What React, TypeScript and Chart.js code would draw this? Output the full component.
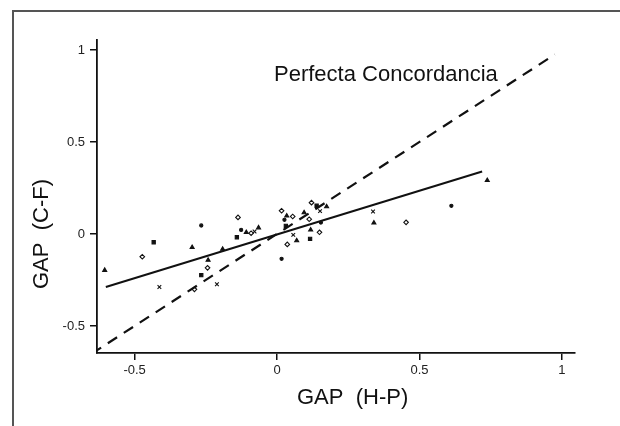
import React, { useEffect, useRef } from 'react';
import { Chart, registerables } from 'chart.js';

Chart.register(...registerables);

// GAP measured by H-P (x) against GAP measured by C-F (y), one entry per subject
const gapHP = [
  -0.605, -0.473, -0.433, -0.413, -0.298, -0.29, -0.266, -0.242, -0.244, -0.266,
  -0.211, -0.191, -0.137, -0.126, -0.108, -0.091, -0.141, -0.079, -0.065, 0.016,
  0.026, 0.034, 0.055, 0.031, 0.057, 0.069, 0.036, 0.016, 0.095, 0.121,
  0.139, 0.151, 0.174, 0.113, 0.154, 0.118, 0.149, 0.116, 0.337, 0.34,
  0.453, 0.612, 0.738,
];
const gapCF = [
  -0.197, -0.124, -0.045, -0.288, -0.073, -0.301, 0.046, -0.142, -0.184, -0.224,
  -0.273, -0.082, 0.09, 0.022, 0.009, 0.004, -0.018, 0.013, 0.034, 0.126,
  0.077, 0.098, 0.095, 0.044, -0.005, -0.036, -0.057, -0.135, 0.116, 0.17,
  0.153, 0.124, 0.149, 0.08, 0.062, 0.022, 0.009, -0.027, 0.122, 0.06,
  0.063, 0.153, 0.291,
];

// Fitted regression line end points
const fitX = [-0.601, 0.72];
const fitY = [-0.288, 0.339];

// Line of perfect agreement (y = x)
const agreeX = [-0.65, 0.975];
const agreeY = [-0.65, 0.975];

// Axis ticks
const xTicks = [-0.5, 0, 0.5, 1];
const xTickLabels = ['-0.5', '0', '0.5', '1'];
const yTicks = [-0.5, 0, 0.5, 1];
const yTickLabels = ['-0.5', '0', '0.5', '1'];

const xTitle = 'GAP  (H-P)';
const yTitle = 'GAP  (C-F)';
const agreeLabel = 'Perfecta Concordancia';

const FONT = "'Liberation Sans', Arial, Helvetica, sans-serif";
const INK = '#111';

const markerStyles = ['triangle', 'rectRot', 'rect', 'crossRot', 'triangle', 'rectRot', 'circle'];

const decorPlugin = {
  id: 'decor',
  beforeDraw(chart: any) {
    const ctx = chart.ctx;
    ctx.save();
    ctx.fillStyle = '#fff';
    ctx.fillRect(0, 0, chart.width, chart.height);
    // outer frame (top and left edges)
    ctx.strokeStyle = '#555';
    ctx.lineWidth = 2;
    ctx.beginPath();
    ctx.moveTo(13, chart.height);
    ctx.lineTo(13, 11);
    ctx.lineTo(chart.width, 11);
    ctx.stroke();
    ctx.restore();
  },
  afterDraw(chart: any) {
    const ctx = chart.ctx;
    ctx.save();
    ctx.fillStyle = INK;
    ctx.font = `22px ${FONT}`;
    ctx.textBaseline = 'alphabetic';
    ctx.textAlign = 'left';
    ctx.fillText(agreeLabel, 274, 81);
    ctx.fillText(xTitle, 297, 404);
    ctx.translate(48, 234);
    ctx.rotate(-Math.PI / 2);
    ctx.textAlign = 'center';
    ctx.fillText(yTitle, 0, 0);
    ctx.restore();
  },
};

export default function App() {
  const canvasRef = useRef<HTMLCanvasElement | null>(null);

  useEffect(() => {
    const canvas = canvasRef.current;
    if (!canvas) return;

    const points = gapHP.map((x, i) => ({ x, y: gapCF[i] }));
    const fit = fitX.map((x, i) => ({ x, y: fitY[i] }));
    const agree = agreeX.map((x, i) => ({ x, y: agreeY[i] }));

    const axisCommon = {
      type: 'linear' as const,
      grid: {
        display: true,
        drawOnChartArea: false,
        drawTicks: true,
        tickLength: 7,
        color: INK,
        lineWidth: 1.5,
      },
      border: { display: true, color: INK, width: 1.8 },
    };

    const chart = new Chart(canvas, {
      type: 'scatter',
      data: {
        datasets: [
          {
            label: 'agree',
            data: agree,
            showLine: true,
            pointRadius: 0,
            borderColor: INK,
            borderWidth: 2.2,
            borderDash: [11, 8],
          },
          {
            label: 'fit',
            data: fit,
            showLine: true,
            pointRadius: 0,
            borderColor: INK,
            borderWidth: 2,
          },
          {
            label: 'GAP',
            data: points,
            pointStyle: (c: any) => markerStyles[c.dataIndex % markerStyles.length] as any,
            pointRadius: (c: any) => {
              const s = markerStyles[c.dataIndex % markerStyles.length];
              return s === 'crossRot' ? 2.6 : s === 'circle' ? 1.6 : 2.3;
            },
            backgroundColor: (c: any) => {
              const s = markerStyles[c.dataIndex % markerStyles.length];
              return s === 'rectRot' ? '#fff' : INK;
            },
            borderColor: INK,
            borderWidth: 1.1,
          },
        ],
      },
      options: {
        responsive: false,
        animation: false,
        events: [],
        layout: { padding: { top: 40, right: 45, bottom: 0, left: 0 } },
        plugins: {
          legend: { display: false },
          tooltip: { enabled: false },
          title: { display: false },
        },
        scales: {
          x: {
            ...axisCommon,
            min: -0.632,
            max: 1.046,
            afterBuildTicks: (s: any) => {
              s.ticks = xTicks.map((v) => ({ value: v }));
            },
            afterFit: (s: any) => {
              s.height = 73;
            },
            ticks: {
              autoSkip: false,
              maxRotation: 0,
              padding: 3,
              color: '#222',
              font: { family: FONT, size: 13 },
              callback: (_v: any, i: number) => xTickLabels[i],
            },
          },
          y: {
            ...axisCommon,
            min: -0.647,
            max: 1.054,
            afterBuildTicks: (s: any) => {
              s.ticks = yTicks.map((v) => ({ value: v }));
            },
            afterFit: (s: any) => {
              s.width = 97;
            },
            ticks: {
              autoSkip: false,
              padding: 5,
              color: '#222',
              font: { family: FONT, size: 13 },
              callback: (_v: any, i: number) => yTickLabels[i],
            },
          },
        },
      },
      plugins: [decorPlugin],
    });

    return () => chart.destroy();
  }, []);

  return (
    <div style={{ position: 'fixed', left: 0, top: 0, width: 620, height: 426, background: '#fff' }}>
      <canvas ref={canvasRef} width={620} height={426} style={{ display: 'block' }} />
    </div>
  );
}
